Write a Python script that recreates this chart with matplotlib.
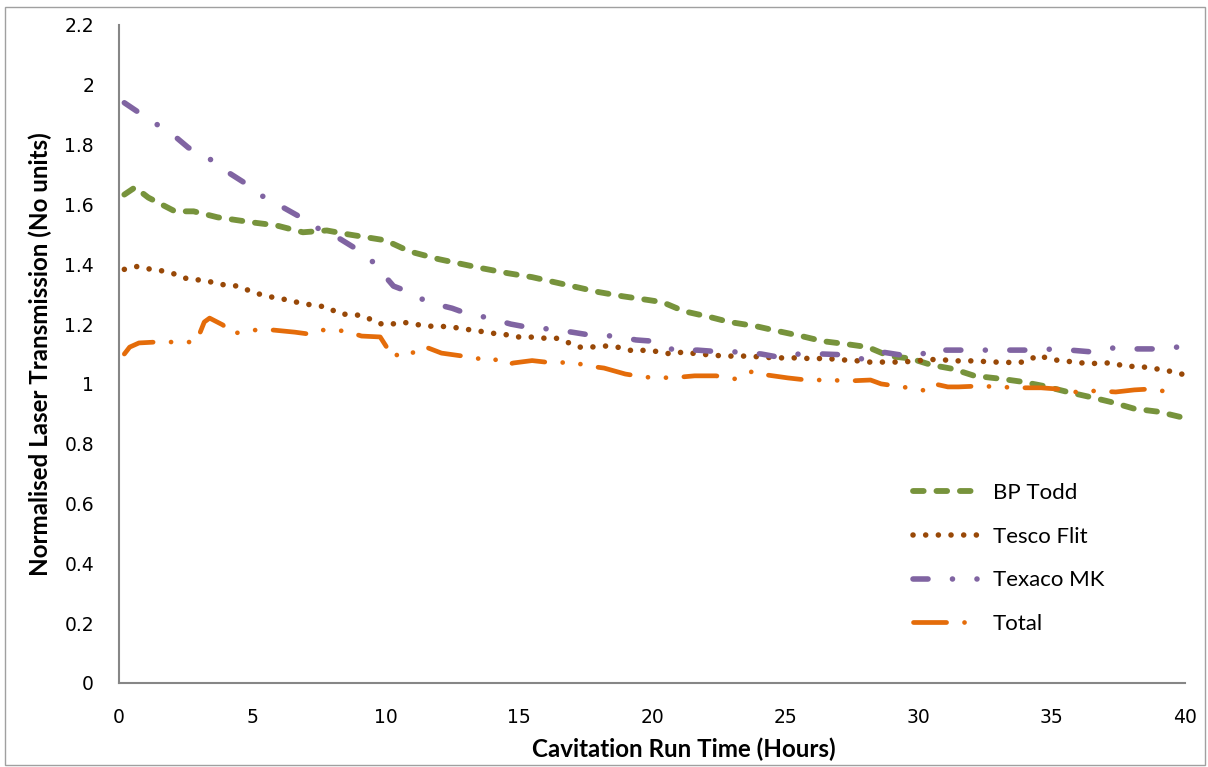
import matplotlib
matplotlib.use('Agg')
import matplotlib.pyplot as plt
from matplotlib.patches import Rectangle

# --- data ---
bp_hours = [0.2, 0.6, 1.1, 1.6, 2.1, 2.8, 3.7, 5.0, 5.9, 6.9, 7.8, 8.6, 10.0, 10.9, 12.0, 13.6,
            14.6, 15.5, 17.2, 18.0, 18.9, 19.9, 20.4, 21.2, 22.2, 22.9, 23.9, 24.7, 25.6, 26.4,
            27.3, 28.1, 28.9, 29.7, 30.5, 31.3, 32.1, 33.1, 33.9, 34.7, 35.6, 36.4, 37.2, 38.1,
            39.0, 39.8]
bp_todd = [1.633, 1.657, 1.623, 1.600, 1.577, 1.577, 1.557, 1.540, 1.530, 1.507, 1.513, 1.500,
           1.480, 1.443, 1.417, 1.387, 1.370, 1.357, 1.323, 1.307, 1.293, 1.280, 1.273, 1.243,
           1.223, 1.207, 1.193, 1.177, 1.160, 1.143, 1.133, 1.123, 1.093, 1.085, 1.063, 1.050,
           1.027, 1.017, 1.007, 0.993, 0.973, 0.957, 0.940, 0.917, 0.907, 0.890]

tesco_hours = [0.2, 0.7, 1.2, 1.7, 2.1, 2.6, 3.1, 3.5, 4.0, 4.5, 5.0, 5.4, 5.9, 6.4, 6.8, 7.3,
               7.8, 8.3, 8.7, 9.2, 9.7, 10.1, 10.6, 11.1, 11.5, 12.0, 12.5, 13.0, 13.5, 13.9,
               14.4, 14.9, 15.4, 15.9, 16.4, 16.8, 17.3, 17.7, 18.2, 18.7, 19.3, 19.8, 20.3,
               20.7, 21.2, 21.7, 22.2, 22.7, 23.6, 24.1, 24.6, 25.6, 26.1, 26.5, 27.0, 27.5,
               28.0, 28.9, 29.4, 29.9, 30.3, 30.8, 31.2, 32.2, 32.7, 33.2, 33.7, 34.1, 34.5,
               34.9, 35.4, 35.9, 36.4, 36.8, 37.3, 37.8, 38.2, 38.7, 39.2, 39.7, 40.0]
tesco_flit = [1.383, 1.393, 1.383, 1.377, 1.367, 1.350, 1.347, 1.340, 1.330, 1.327, 1.307, 1.297,
              1.287, 1.280, 1.270, 1.263, 1.257, 1.233, 1.233, 1.227, 1.203, 1.197, 1.207, 1.200,
              1.193, 1.193, 1.190, 1.183, 1.177, 1.170, 1.167, 1.157, 1.157, 1.153, 1.153, 1.140,
              1.123, 1.123, 1.127, 1.123, 1.110, 1.113, 1.107, 1.100, 1.107, 1.100, 1.097, 1.093,
              1.093, 1.090, 1.087, 1.087, 1.083, 1.087, 1.080, 1.080, 1.073, 1.073, 1.073, 1.077,
              1.080, 1.083, 1.077, 1.077, 1.073, 1.073, 1.070, 1.077, 1.097, 1.083, 1.077, 1.073,
              1.067, 1.070, 1.070, 1.057, 1.060, 1.053, 1.047, 1.037, 1.030]

texaco_hours = [0.2, 0.75, 1.5, 2.2, 2.6, 3.5, 4.1, 4.7, 5.4, 6.1, 6.7, 7.4, 8.2, 8.8, 9.5, 10.3,
                10.8, 11.6, 12.5, 13.0, 13.9, 14.7, 15.3, 16.2, 17.0, 17.7, 18.6, 19.4, 20.0,
                20.3, 20.9, 21.7, 22.6, 23.2, 24.1, 24.9, 25.5, 26.4, 27.3, 27.9, 28.6, 29.6,
                30.1, 30.5, 30.9, 31.8, 32.8, 33.3, 34.2, 35.2, 35.7, 36.5, 37.3, 37.9, 38.8,
                39.7, 40.0]
texaco_mk = [1.940, 1.907, 1.863, 1.820, 1.790, 1.747, 1.707, 1.673, 1.627, 1.593, 1.563, 1.523,
             1.490, 1.457, 1.410, 1.327, 1.310, 1.273, 1.253, 1.237, 1.220, 1.200, 1.190, 1.183,
             1.173, 1.163, 1.160, 1.147, 1.143, 1.133, 1.110, 1.113, 1.107, 1.107, 1.100, 1.087,
             1.100, 1.100, 1.097, 1.083, 1.107, 1.093, 1.097, 1.120, 1.113, 1.113, 1.113, 1.113,
             1.113, 1.117, 1.113, 1.107, 1.120, 1.117, 1.117, 1.123, 1.137]

total_hours = [0.2, 0.4, 0.75, 1.4, 2.2, 2.9, 3.2, 3.4, 3.9, 4.2, 5.0, 5.8, 6.6, 7.1, 7.5, 7.8,
               8.5, 9.1, 9.8, 10.3, 10.6, 11.0, 11.4, 12.1, 12.9, 13.6, 14.0, 14.5, 14.8, 15.5,
               16.3, 17.0, 17.6, 18.2, 19.0, 19.7, 20.3, 21.1, 21.6, 22.4, 23.1, 23.8, 24.3,
               25.1, 25.8, 26.6, 27.4, 28.2, 28.6, 29.4, 30.3, 30.6, 31.1, 31.5, 32.3, 33.0,
               33.8, 34.6, 35.2, 35.9, 36.7, 37.4, 38.1, 38.7, 39.4]
total = [1.100, 1.123, 1.137, 1.140, 1.140, 1.140, 1.207, 1.220, 1.197, 1.167, 1.180, 1.180,
         1.173, 1.167, 1.180, 1.180, 1.177, 1.160, 1.157, 1.087, 1.110, 1.103, 1.127, 1.103,
         1.093, 1.083, 1.087, 1.063, 1.070, 1.078, 1.070, 1.073, 1.060, 1.053, 1.033, 1.023,
         1.020, 1.023, 1.027, 1.027, 1.017, 1.043, 1.030, 1.020, 1.013, 1.013, 1.010, 1.013,
         1.000, 0.990, 0.977, 1.000, 0.990, 0.990, 0.993, 0.990, 0.987, 0.987, 0.983, 0.973,
         0.977, 0.973, 0.980, 0.983, 0.973]

series_names = ['BP Todd', 'Tesco Flit', 'Texaco MK', 'Total']
colors = ['#77933C', '#984807', '#8064A2', '#E46C0A']

fig = plt.figure(figsize=(12.08, 7.67), dpi=100)
ax = fig.add_axes([119 / 1208, 84 / 767, 1066 / 1208, 658 / 767])

common = dict(dash_capstyle='round', solid_capstyle='round', dash_joinstyle='round')
ax.plot(bp_hours, bp_todd, color=colors[0], lw=4.2, linestyle=(0, (1.83, 2.19)),
        label=series_names[0], **common)
ax.plot(tesco_hours, tesco_flit, color=colors[1], lw=4.0, linestyle=(0, (0.01, 2.27)),
        label=series_names[1], **common)
ax.plot(texaco_hours, texaco_mk, color=colors[2], lw=4.0,
        linestyle=(0, (2.7, 4.4, 0.01, 4.4)), label=series_names[2], **common)
ax.plot(total_hours, total, color=colors[3], lw=3.4,
        linestyle=(0, (7.0, 3.8, 0.01, 3.8, 0.01, 3.8)), label=series_names[3], **common)

ax.set_xlim(0, 40)
ax.set_ylim(0, 2.2)
ax.set_xticks(range(0, 41, 5))
yt = [i * 0.2 for i in range(12)]
ax.set_yticks(yt)
ax.set_yticklabels(['0', '0.2', '0.4', '0.6', '0.8', '1', '1.2', '1.4', '1.6', '1.8', '2', '2.2'])
ax.tick_params(axis='both', length=0, labelsize=13.5, pad=18)

for s in ['top', 'right']:
    ax.spines[s].set_visible(False)
for s in ['left', 'bottom']:
    ax.spines[s].set_color('#868686')
    ax.spines[s].set_linewidth(1.5)

ax.set_xlabel('Cavitation Run Time (Hours)', fontsize=17.4, fontweight='bold',
              family=['Lato', 'DejaVu Sans'], va='center')
ax.xaxis.set_label_coords(0.530, -0.100)
ax.set_ylabel('Normalised Laser Transmission (No units)', fontsize=17.4, fontweight='bold',
              family=['Lato', 'DejaVu Sans'], va='center')
ax.yaxis.set_label_coords(-0.0741, 0.50)

leg = ax.legend(loc='center left', bbox_to_anchor=(913 / 1208, 1 - 558.5 / 767),
                bbox_transform=fig.transFigure, frameon=False, borderpad=0,
                borderaxespad=0, handlelength=2.9, handletextpad=0.7, labelspacing=1.07,
                prop={'family': ['Lato', 'DejaVu Sans'], 'size': 16})

fig.patches.append(Rectangle((5 / 1208, 2 / 767), 1200 / 1208, 758 / 767,
                             transform=fig.transFigure, fill=False,
                             edgecolor='#a0a0a0', lw=1))

fig.savefig('out.png', dpi=100)
